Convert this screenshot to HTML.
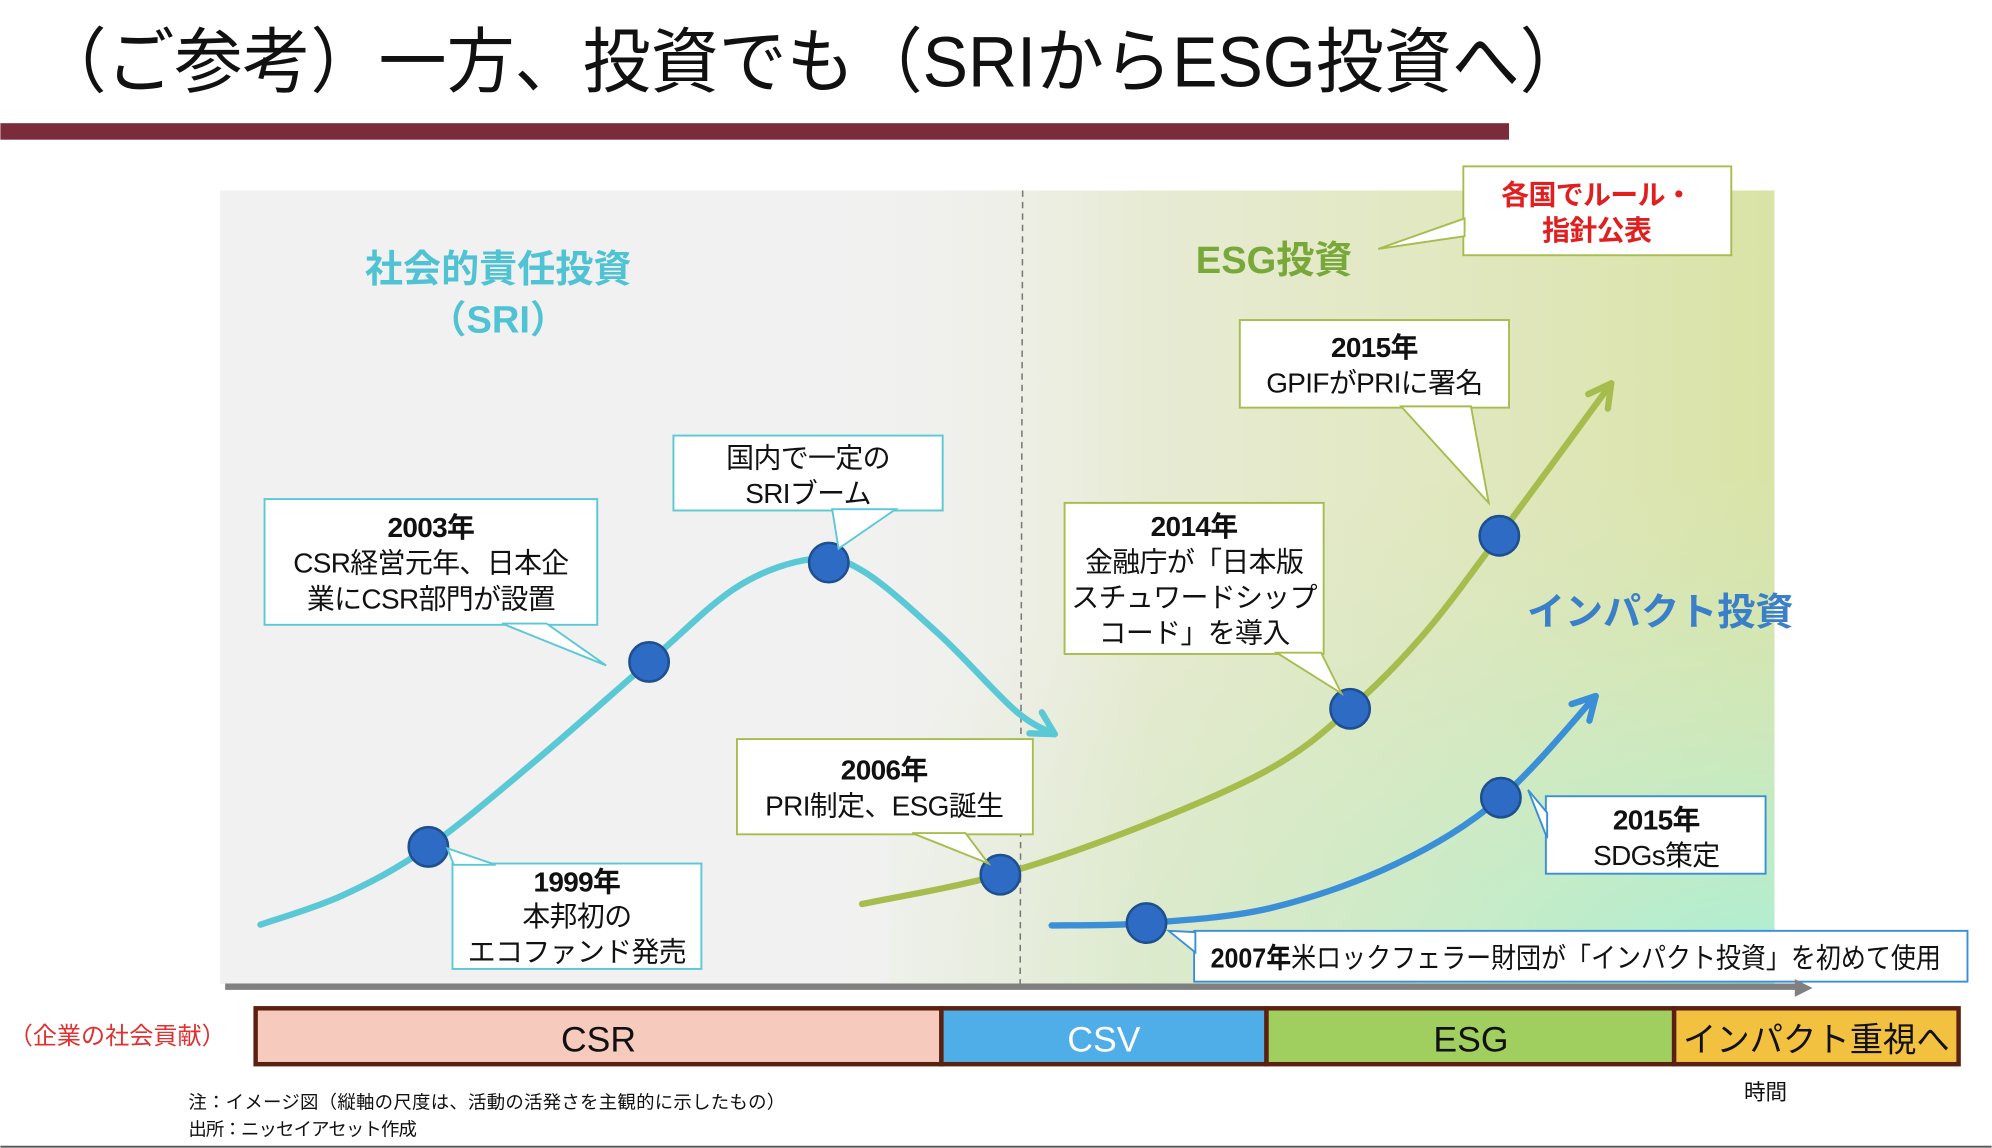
<!DOCTYPE html>
<html><head><meta charset="utf-8"><style>
html,body{margin:0;padding:0;background:#fff;}
svg{display:block;font-family:"Liberation Sans","Noto Sans CJK JP",sans-serif;}
</style></head><body>
<svg id="chart" width="1992" height="1148" viewBox="0 0 1568 904" xmlns="http://www.w3.org/2000/svg">
<defs>
<linearGradient id="gY" x1="0" y1="0" x2="1" y2="0">
<stop offset="0" stop-color="#f1f1f1" stop-opacity="0"/>
<stop offset="0.35" stop-color="#e3e8c6" stop-opacity="0.7"/>
<stop offset="1" stop-color="#d9e3a6"/>
</linearGradient>
<radialGradient id="gM" cx="1" cy="1" r="1.1">
<stop offset="0" stop-color="#a8f0d8" stop-opacity="1"/>
<stop offset="0.45" stop-color="#c4ecc8" stop-opacity="0.6"/>
<stop offset="1" stop-color="#d8e6b8" stop-opacity="0"/>
</radialGradient>
</defs>
<text x="30" y="68" font-size="56" fill="#111" textLength="1220" lengthAdjust="spacingAndGlyphs">（ご参考）一方、投資でも（SRIからESG投資へ）</text>
<rect x="0" y="97" width="1188" height="13" fill="#7b2c3a"/>
<g>
<rect x="173" y="150" width="1224" height="625" fill="#f1f1f1"/>
<rect x="640" y="150" width="757" height="625" fill="url(#gY)"/>
<rect x="700" y="380" width="697" height="395" fill="url(#gM)"/>
</g>
<line x1="805" y1="150" x2="803" y2="775" stroke="#777" stroke-width="1.2" stroke-dasharray="5,4"/>
<g id="curves"></g>
<g id="callouts"></g>
<text x="392" y="222" font-size="30" font-weight="bold" fill="#4fc3d3" text-anchor="middle">社会的責任投資</text>
<text x="392" y="262" font-size="30" font-weight="bold" fill="#4fc3d3" text-anchor="middle">（SRI）</text>
<text x="1003" y="215" font-size="30" font-weight="bold" fill="#78a83a" text-anchor="middle">ESG投資</text>
<text x="1307" y="492" font-size="30" font-weight="bold" fill="#3a7fc8" text-anchor="middle">インパクト投資</text>
<g>
<line x1="177" y1="777" x2="1415" y2="777" stroke="#808080" stroke-width="5"/>
<polygon points="1413,771 1427,778 1413,785" fill="#808080"/>
</g>
<text x="92" y="822" font-size="19" fill="#e03030" text-anchor="middle">（企業の社会貢献）</text>
<g>
<rect x="201" y="794" width="540" height="44" fill="#f6cbbd" stroke="#5a2010" stroke-width="3.5"/>
<rect x="741" y="794" width="256" height="44" fill="#4fade8" stroke="#5a2010" stroke-width="3.5"/>
<rect x="997" y="794" width="321" height="44" fill="#a0cf5f" stroke="#5a2010" stroke-width="3.5"/>
<rect x="1318" y="794" width="224" height="44" fill="#f2c140" stroke="#5a2010" stroke-width="3.5"/>
<text x="471" y="828" font-size="28" text-anchor="middle" fill="#111">CSR</text>
<text x="869" y="828" font-size="28" text-anchor="middle" fill="#fff">CSV</text>
<text x="1158" y="828" font-size="28" text-anchor="middle" fill="#111">ESG</text>
<text x="1430" y="828" font-size="27" text-anchor="middle" fill="#111" textLength="210" lengthAdjust="spacingAndGlyphs">インパクト重視へ</text>
</g>
<text x="1390" y="866" font-size="17" text-anchor="middle" fill="#111">時間</text>
<text x="148" y="873" font-size="14.5" fill="#111" textLength="470">注：イメージ図（縦軸の尺度は、活動の活発さを主観的に示したもの）</text>
<text x="148" y="894" font-size="14.5" fill="#111" textLength="180">出所：ニッセイアセット作成</text>
<line x1="0" y1="903" x2="1568" y2="903" stroke="#555" stroke-width="1.5"/>
</svg>
<script>
// Conceptual time (0-100) and activity level (0-100)
const sriT = [2.6, 7.9, 13.4, 20.2, 27.6, 33.3, 38.2, 41.4, 46.3, 51.2, 53.7];
const sriV = [7.5, 11.2, 17.3, 28, 40.6, 50.1, 53.6, 52, 44, 34.4, 31.5];
const sriMarks = [2, 4, 6.3];
const esgT = [41.3, 50.2, 59.4, 67.6, 72.7, 77.4, 82.3, 89.5];
const esgV = [10.1, 13.8, 20, 27.2, 34.7, 44, 56.5, 75.7];
const esgMarks = [1, 4, 6];
const impT = [53.5, 59.6, 67.6, 75.7, 82.4, 88.5];
const impV = [7.4, 7.7, 9.6, 15.2, 23.5, 36.3];
const impMarks = [1, 4];

const NS = "http://www.w3.org/2000/svg";
function xScale(t){ return 173 + t * 12.24; }
function yScale(v){ return 775 - v * 6.25; }
function mk(tag, attrs, parent){ const e = document.createElementNS(NS, tag); for (const k in attrs) e.setAttribute(k, attrs[k]); parent.appendChild(e); return e; }
function pathD(p){
  let d = "M" + p[0][0] + "," + p[0][1];
  for (let i = 0; i < p.length - 1; i++) {
    const p0 = p[i-1] || p[i], p1 = p[i], p2 = p[i+1], p3 = p[i+2] || p2;
    const c1 = [p1[0] + (p2[0]-p0[0])/6, p1[1] + (p2[1]-p0[1])/6];
    const c2 = [p2[0] - (p3[0]-p1[0])/6, p2[1] - (p3[1]-p1[1])/6];
    d += " C" + c1 + " " + c2 + " " + p2;
  }
  return d;
}
function interp(pts, idx){
  const i = Math.floor(idx), f = idx - i;
  if (f === 0 || i >= pts.length - 1) return pts[Math.min(i, pts.length-1)];
  return [pts[i][0] + (pts[i+1][0]-pts[i][0])*f, pts[i][1] + (pts[i+1][1]-pts[i][1])*f];
}
const g = document.getElementById("curves");
function drawCurve(ts, vs, marks, color, name){
  const pts = ts.map((t, i) => [xScale(t), yScale(vs[i])]);
  const path = mk("path", {d: pathD(pts), fill: "none", stroke: color, "stroke-width": 5, "stroke-linecap": "round"}, g);
  
  
  const a = pts[pts.length-1], b = pts[pts.length-2];
  const ang = Math.atan2(a[1]-b[1], a[0]-b[0]), L = 20, sp = 0.5;
  const head = mk("polyline", {points: [a[0]-L*Math.cos(ang-sp), a[1]-L*Math.sin(ang-sp)] + " " + a + " " + [a[0]-L*Math.cos(ang+sp), a[1]-L*Math.sin(ang+sp)], fill: "none", stroke: color, "stroke-width": 5, "stroke-linecap": "round", "stroke-linejoin": "round"}, g);
  
  
  marks.forEach((m, k) => {
    const p = interp(pts, m);
    const c = mk("circle", {cx: p[0], cy: p[1], r: 15.5, fill: "#2e6bc4", stroke: "#1e4f8e", "stroke-width": 2}, g);
    
    
  });
}
drawCurve(sriT, sriV, sriMarks, "#5bc8d6", "sri-curve");
drawCurve(esgT, esgV, esgMarks, "#a6bd4e", "esg-curve");
drawCurve(impT, impV, impMarks, "#3b8fd6", "impact-curve");

const cg = document.getElementById("callouts");
function callout(name, x, y, w, h, color, ptr, lines){
  const grp = mk("g", {}, cg);
  
  
  mk("rect", {x: x, y: y, width: w, height: h, fill: "#fff", stroke: color, "stroke-width": 1.5}, grp);
  mk("polygon", {points: ptr, fill: "#fff", stroke: color, "stroke-width": 1.5, "stroke-linejoin": "miter"}, grp);
  lines.forEach(l => {
    const t = mk("text", {x: l[0], y: l[1], "font-size": l[3] || 22, "font-weight": l[4] ? "bold" : "normal", fill: l[5] || "#111", "text-anchor": "middle", "letter-spacing": "-0.5"}, grp);
    t.textContent = l[2];
  });
  return grp;
}
const cy = "#5bc8d6", gr = "#a6bd4e", bl = "#3b8fd6";
callout("callout-2003", 208, 393, 262, 99, cy, "395,491 477,524 430,491", [[339,423,"2003年",22,1],[339,451,"CSR経営元年、日本企"],[339,479,"業にCSR部門が設置"]]);
callout("callout-sri-boom", 530, 343, 212, 59, cy, "655,401 660,432 705,401", [[636,368,"国内で一定の"],[636,396,"SRIブーム"]]);
callout("callout-1999", 356, 680, 196, 83, cy, "357,681 352,668 390,681", [[454,702,"1999年",22,1],[454,729,"本邦初の"],[454,757,"エコファンド発売"]]);
callout("callout-2006", 580, 582, 233, 75, gr, "718,656 778,680 760,656", [[696,614,"2006年",22,1],[696,642,"PRI制定、ESG誕生"]]);
callout("callout-2015-gpif", 976, 252, 212, 69, gr, "1103,320 1172,396 1158,320", [[1082,281,"2015年",22,1],[1082,309,"GPIFがPRIに署名"]]);
callout("callout-2014", 838, 396, 204, 119, gr, "1005,514 1056,546 1040,514", [[940,422,"2014年",22,1],[940,450,"金融庁が「日本版"],[940,478,"スチュワードシップ"],[940,506,"コード」を導入"]]);
callout("callout-rules", 1152, 131, 211, 70, gr, "1153,172 1085,196 1153,186", [[1257,161,"各国でルール・",22,1,"#e02020"],[1257,189,"指針公表",22,1,"#e02020"]]);
callout("callout-2015-sdgs", 1217, 627, 173, 61, bl, "1218,640 1203,622 1218,660", [[1304,653,"2015年",22,1],[1304,681,"SDGs策定"]]);
const c07 = callout("callout-2007", 940, 733, 609, 40, bl, "941,734 920,733 941,750", []);
const t07 = mk("text", {x: 953, y: 762, "font-size": 22, fill: "#111", textLength: "575", lengthAdjust: "spacingAndGlyphs"}, c07);
const b07 = mk("tspan", {"font-weight": "bold"}, t07);
b07.textContent = "2007年";
const r07 = mk("tspan", {}, t07);
r07.textContent = "米ロックフェラー財団が「インパクト投資」を初めて使用";
</script>
</body></html>
